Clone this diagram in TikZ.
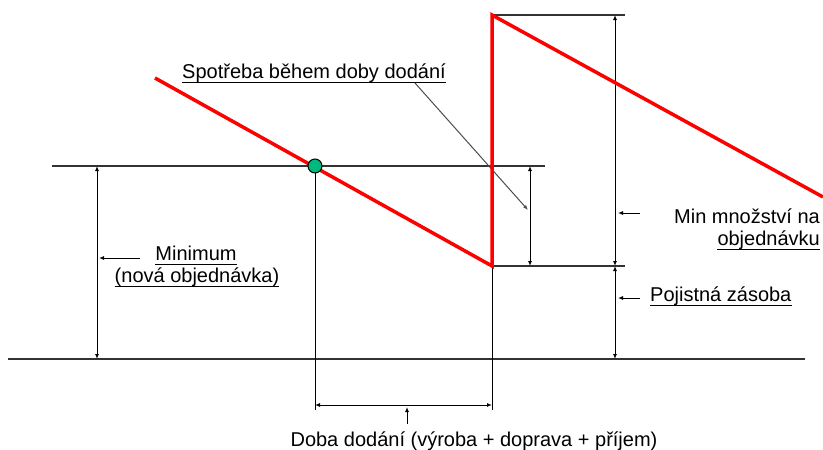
\documentclass[tikz,border=0pt]{standalone}
\usepackage{fontspec}
\setmainfont{Liberation Sans}
\usetikzlibrary{arrows.meta}
\definecolor{dotgreen}{RGB}{0,185,125}
\begin{document}
\begin{tikzpicture}[x=1pt,y=-1pt,
 thinline/.style={line width=1pt, black},
 baseline/.style={line width=1.4pt, black!80},
 redline/.style={line width=3.5pt, red, line join=miter},
 dim/.style={line width=1pt, {Latex[length=5pt,width=4pt]}-{Latex[length=5pt,width=4pt]}},
 pointer/.style={line width=1pt, -{Latex[length=5pt,width=4pt]}},
 lbl/.style={font=\fontsize{20}{24}\selectfont, inner sep=0pt, anchor=base},
 ulline/.style={line width=1pt, black},
]
\useasboundingbox (0,0) rectangle (823,450);
% key points
\coordinate (L1) at (52,166);
\coordinate (R1) at (545,166);
\coordinate (L0) at (8,359);
\coordinate (R0) at (805,359);
\coordinate (A) at (155,78);
\coordinate (B) at (492,266);
\coordinate (T) at (492,15);
\coordinate (E) at (823,197);
\coordinate (Tr) at (625,15);
\coordinate (Br) at (625,266);
\coordinate (V1b) at (315,410);
\coordinate (V2b) at (492,410);
% base lines
\draw[baseline] (L1) -- (R1);
\draw[baseline] (L0) -- (R0);
\draw[baseline] (T) -- (Tr);
\draw[baseline] (B) -- (Br);
% verticals
\draw[thinline] (315,166) -- (V1b);
\draw[thinline] (B) -- (V2b);
% dimension arrows
\coordinate (d1a) at (97,166); \coordinate (d1b) at (97,359);
\draw[dim] (d1a) -- (d1b);
\coordinate (d2a) at (530,166); \coordinate (d2b) at (530,266);
\draw[dim] (d2a) -- (d2b);
\coordinate (d3a) at (615,15); \coordinate (d3b) at (615,266);
\draw[dim] (d3a) -- (d3b);
\coordinate (d4a) at (615,266); \coordinate (d4b) at (615,359);
\draw[dim] (d4a) -- (d4b);
\coordinate (d5a) at (315,405); \coordinate (d5b) at (492,405);
\draw[dim] (d5a) -- (d5b);
% pointers
\coordinate (p1a) at (140,258); \coordinate (p1b) at (99,258);
\draw[pointer] (p1a) -- (p1b);
\coordinate (p2a) at (640,213); \coordinate (p2b) at (618,213);
\draw[pointer] (p2a) -- (p2b);
\coordinate (p3a) at (640,298); \coordinate (p3b) at (618,298);
\draw[pointer] (p3a) -- (p3b);
\coordinate (p4a) at (407,424); \coordinate (p4b) at (407,407);
\draw[pointer] (p4a) -- (p4b);
\coordinate (p5a) at (415,83); \coordinate (p5b) at (528,210);
\draw[pointer, black!70] (p5a) -- (p5b);
% red stock line
\draw[redline] (A) -- (B) -- (T) -- (E);
% order point
\node[circle, draw=black, line width=1pt, fill=dotgreen, inner sep=0pt, minimum size=14pt] (dot) at (315,166) {};
% labels
\node[lbl] (s) at (314,78) {Spotřeba během doby dodání};
\node[lbl] (m1) at (196,260) {Minimum};
\node[lbl] (m2) at (197,282) {(nová objednávka)};
\node[lbl, anchor=base east] (q1) at (820,223) {Min množství na};
\node[lbl, anchor=base east] (q2) at (820,245) {objednávku};
\node[lbl, anchor=base west] (p) at (650,301) {Pojistná zásoba};
\node[lbl] (d) at (474,446) {Doba dodání (výroba + doprava + příjem)};
% underlines
\foreach \n in {s,m1,m2,q2,p,d}
  \draw[ulline] ([yshift=-4pt]\n.base west) -- ([yshift=-4pt]\n.base east);
\end{tikzpicture}
\end{document}
